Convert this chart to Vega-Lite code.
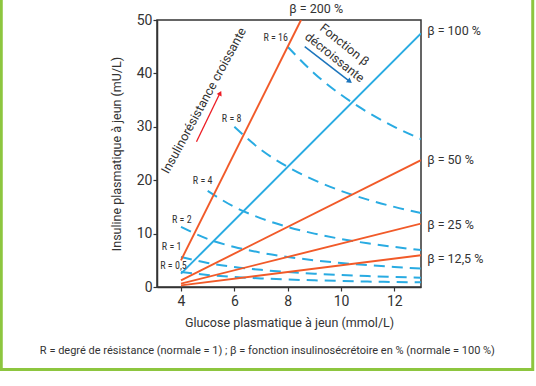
{
  "$schema": "https://vega.github.io/schema/vega-lite/v6.json",
  "width": 264,
  "height": 267,
  "autosize": {"type": "none"},
  "padding": {"left": 157, "top": 20, "right": 115, "bottom": 99},
  "background": "white",
  "config": {
    "font": "Roboto",
    "view": {"stroke": "#333333", "strokeWidth": 1.5},
    "axis": {
      "grid": false,
      "domainColor": "#333333",
      "domainWidth": 1.5,
      "tickColor": "#333333",
      "tickWidth": 1.2,
      "tickSize": 4,
      "labelFont": "Roboto",
      "labelFontSize": 14,
      "labelColor": "#333333",
      "titleFont": "Roboto",
      "titleFontSize": 12.5,
      "titleFontWeight": "normal",
      "titleColor": "#333333"
    }
  },
  "datasets": {
    "beta": [
      {"s": "200", "G": 4, "I": 5},
      {"s": "200", "G": 8.5, "I": 50},
      {"s": "100", "G": 4, "I": 2.5},
      {"s": "100", "G": 13, "I": 47.5},
      {"s": "50", "G": 4, "I": 1.25},
      {"s": "50", "G": 13, "I": 23.75},
      {"s": "25", "G": 4, "I": 0.625},
      {"s": "25", "G": 13, "I": 11.875},
      {"s": "12.5", "G": 4, "I": 0.31},
      {"s": "12.5", "G": 13, "I": 5.94}
    ],
    "res": [
      {"r": "0.5", "G": 4, "I": 2.81}, {"r": "0.5", "G": 5, "I": 2.25}, {"r": "0.5", "G": 6, "I": 1.88}, {"r": "0.5", "G": 7, "I": 1.61}, {"r": "0.5", "G": 8, "I": 1.41}, {"r": "0.5", "G": 9, "I": 1.25}, {"r": "0.5", "G": 10, "I": 1.13}, {"r": "0.5", "G": 11, "I": 1.02}, {"r": "0.5", "G": 12, "I": 0.94}, {"r": "0.5", "G": 13, "I": 0.87},
      {"r": "1", "G": 4, "I": 5.63}, {"r": "1", "G": 5, "I": 4.5}, {"r": "1", "G": 6, "I": 3.75}, {"r": "1", "G": 7, "I": 3.21}, {"r": "1", "G": 8, "I": 2.81}, {"r": "1", "G": 9, "I": 2.5}, {"r": "1", "G": 10, "I": 2.25}, {"r": "1", "G": 11, "I": 2.05}, {"r": "1", "G": 12, "I": 1.88}, {"r": "1", "G": 13, "I": 1.73},
      {"r": "2", "G": 4, "I": 11.25}, {"r": "2", "G": 5, "I": 9.0}, {"r": "2", "G": 6, "I": 7.5}, {"r": "2", "G": 7, "I": 6.43}, {"r": "2", "G": 8, "I": 5.63}, {"r": "2", "G": 9, "I": 5.0}, {"r": "2", "G": 10, "I": 4.5}, {"r": "2", "G": 11, "I": 4.09}, {"r": "2", "G": 12, "I": 3.75}, {"r": "2", "G": 13, "I": 3.46},
      {"r": "4", "G": 5, "I": 18.0}, {"r": "4", "G": 6, "I": 15.0}, {"r": "4", "G": 7, "I": 12.86}, {"r": "4", "G": 8, "I": 11.25}, {"r": "4", "G": 9, "I": 10.0}, {"r": "4", "G": 10, "I": 9.0}, {"r": "4", "G": 11, "I": 8.18}, {"r": "4", "G": 12, "I": 7.5}, {"r": "4", "G": 13, "I": 6.92},
      {"r": "8", "G": 6, "I": 30.0}, {"r": "8", "G": 7, "I": 25.71}, {"r": "8", "G": 8, "I": 22.5}, {"r": "8", "G": 9, "I": 20.0}, {"r": "8", "G": 10, "I": 18.0}, {"r": "8", "G": 11, "I": 16.36}, {"r": "8", "G": 12, "I": 15.0}, {"r": "8", "G": 13, "I": 13.85},
      {"r": "16", "G": 8, "I": 45.0}, {"r": "16", "G": 9, "I": 40.0}, {"r": "16", "G": 10, "I": 36.0}, {"r": "16", "G": 11, "I": 32.73}, {"r": "16", "G": 12, "I": 30.0}, {"r": "16", "G": 13, "I": 27.69}
    ],
    "rlab": [
      {"t": "R = 16", "G": 7.55, "I": 46.7},
      {"t": "R = 8", "G": 5.9, "I": 31.5},
      {"t": "R = 4", "G": 4.81, "I": 19.9},
      {"t": "R = 2", "G": 4.03, "I": 12.6},
      {"t": "R = 1", "G": 3.65, "I": 7.5},
      {"t": "R = 0,5", "G": 3.72, "I": 4.0}
    ],
    "blab": [
      {"t": "β = 100 %", "G": 13.23, "I": 48.0},
      {"t": "β = 50 %", "G": 13.23, "I": 23.75},
      {"t": "β = 25 %", "G": 13.23, "I": 11.6},
      {"t": "β = 12,5 %", "G": 13.23, "I": 5.3}
    ]
  },
  "layer": [
    {
      "data": {"name": "res"},
      "mark": {"type": "line", "color": "#29abe2", "strokeWidth": 2, "strokeDash": [11, 7], "interpolate": "monotone", "clip": true},
      "encoding": {
        "x": {
          "field": "G",
          "type": "quantitative",
          "scale": {"domain": [3.1, 13], "nice": false, "zero": false},
          "axis": {"values": [4, 6, 8, 10, 12], "labelPadding": 3, "title": "Glucose plasmatique à jeun (mmol/L)", "titlePadding": 8}
        },
        "y": {
          "field": "I",
          "type": "quantitative",
          "scale": {"domain": [0, 50], "nice": false},
          "axis": {"values": [0, 10, 20, 30, 40, 50], "labelPadding": 1, "title": "Insuline plasmatique à jeun (mU/L)", "titlePadding": 13}
        },
        "detail": {"field": "r"}
      }
    },
    {
      "data": {"values": [{}]},
      "mark": {"type": "rect", "fill": "transparent", "stroke": "#8dc63f", "strokeWidth": 3, "clip": false},
      "encoding": {
        "x": {"datum": -2.74, "type": "quantitative", "scale": {"domain": [3.1, 13], "nice": false, "zero": false}},
        "x2": {"datum": 17.19},
        "y": {"datum": -15.47, "type": "quantitative", "scale": {"domain": [0, 50], "nice": false}},
        "y2": {"datum": 60}
      }
    },
    {
      "data": {"name": "beta"},
      "mark": {"type": "line", "strokeWidth": 1.9, "clip": true},
      "encoding": {
        "x": {"field": "G", "type": "quantitative"},
        "y": {"field": "I", "type": "quantitative"},
        "detail": {"field": "s"},
        "color": {"field": "s", "type": "nominal", "legend": null, "scale": {"domain": ["200", "100", "50", "25", "12.5"], "range": ["#f15a29", "#29abe2", "#f15a29", "#f15a29", "#f15a29"]}}
      }
    },
    {
      "data": {"name": "rlab"},
      "mark": {"type": "text", "font": "Roboto Condensed, DejaVu Sans Condensed, Roboto", "fontSize": 10, "color": "#333333", "align": "center", "baseline": "middle"},
      "encoding": {"x": {"field": "G", "type": "quantitative"}, "y": {"field": "I", "type": "quantitative"}, "text": {"field": "t"}}
    },
    {
      "data": {"name": "blab"},
      "mark": {"type": "text", "fontSize": 12.5, "color": "#333333", "align": "left", "baseline": "middle"},
      "encoding": {"x": {"field": "G", "type": "quantitative"}, "y": {"field": "I", "type": "quantitative"}, "text": {"field": "t"}}
    },
    {
      "data": {"values": [{"t": "β = 200 %", "G": 9.07, "I": 52.0}]},
      "mark": {"type": "text", "fontSize": 12.5, "color": "#333333", "align": "center", "baseline": "middle"},
      "encoding": {"x": {"field": "G", "type": "quantitative"}, "y": {"field": "I", "type": "quantitative"}, "text": {"field": "t"}}
    },
    {
      "data": {"values": [{"t": "R = degré de résistance (normale = 1) ; β = fonction insulinosécrétoire en % (normale = 100 %)", "G": 7.24, "I": -11.93}]},
      "mark": {"type": "text", "fontSize": 11, "color": "#333333", "align": "center", "baseline": "middle"},
      "encoding": {"x": {"field": "G", "type": "quantitative"}, "y": {"field": "I", "type": "quantitative"}, "text": {"field": "t"}}
    },
    {
      "data": {"values": [{"t": "Insulinorésistance croissante", "G": 4.86, "I": 34.9}]},
      "mark": {"type": "text", "fontSize": 12.6, "color": "#333333", "align": "center", "baseline": "middle", "angle": -61.5},
      "encoding": {"x": {"field": "G", "type": "quantitative"}, "y": {"field": "I", "type": "quantitative"}, "text": {"field": "t"}}
    },
    {
      "data": {"values": [{"t": "Fonction β", "G": 10.13, "I": 45.36}, {"t": "décroissante", "G": 9.76, "I": 43.0}]},
      "mark": {"type": "text", "fontSize": 12.5, "color": "#333333", "align": "center", "baseline": "middle", "angle": 38.5},
      "encoding": {"x": {"field": "G", "type": "quantitative"}, "y": {"field": "I", "type": "quantitative"}, "text": {"field": "t"}}
    },
    {
      "data": {"values": [{"G": 4.58, "I": 27.2, "G2": 5.45, "I2": 36.2}]},
      "mark": {"type": "rule", "color": "#ed1c24", "strokeWidth": 1.3},
      "encoding": {"x": {"field": "G", "type": "quantitative"}, "y": {"field": "I", "type": "quantitative"}, "x2": {"field": "G2"}, "y2": {"field": "I2"}}
    },
    {
      "data": {"values": [{"G": 5.47, "I": 36.3}]},
      "mark": {"type": "point", "shape": "triangle-up", "filled": true, "color": "#ed1c24", "size": 30, "angle": 26, "opacity": 1},
      "encoding": {"x": {"field": "G", "type": "quantitative"}, "y": {"field": "I", "type": "quantitative"}}
    },
    {
      "data": {"values": [{"G": 8.64, "I": 45.0, "G2": 10.3, "I2": 38.6}]},
      "mark": {"type": "rule", "color": "#1c75bc", "strokeWidth": 1.5},
      "encoding": {"x": {"field": "G", "type": "quantitative"}, "y": {"field": "I", "type": "quantitative"}, "x2": {"field": "G2"}, "y2": {"field": "I2"}}
    },
    {
      "data": {"values": [{"G": 10.33, "I": 38.5}]},
      "mark": {"type": "point", "shape": "triangle-up", "filled": true, "color": "#1c75bc", "size": 35, "angle": 127.5, "opacity": 1},
      "encoding": {"x": {"field": "G", "type": "quantitative"}, "y": {"field": "I", "type": "quantitative"}}
    }
  ]
}
